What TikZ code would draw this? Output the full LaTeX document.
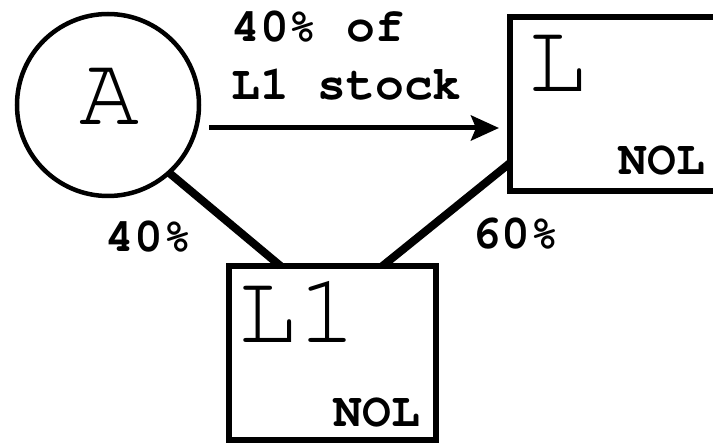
\documentclass[tikz,border=0pt]{standalone}
\usepackage[T1]{fontenc}
\usetikzlibrary{arrows.meta}
\newcommand{\courfam}{\fontfamily{pcr}\selectfont}
\begin{document}
\begin{tikzpicture}[x=1pt,y=-1pt,
  bigtxt/.style={font=\courfam\fontsize{100}{100}\selectfont, inner sep=0pt},
  lbltxt/.style={font=\courfam\bfseries\fontsize{48}{58}\selectfont, inner sep=0pt},
  boxnode/.style={draw, line width=6pt, outer sep=0pt, inner sep=0pt},
  link/.style={line width=8pt},
  flow/.style={line width=5pt, -{Stealth[length=28pt,width=25pt,inset=5pt]}}]
\useasboundingbox (0,0) rectangle (713,443);
\begin{scope}
\clip (0,0) rectangle (713,443);
\node[draw, circle, line width=4.5pt, minimum size=182pt, outer sep=0pt, inner sep=0pt] (A) at (108,105) {};
\node[bigtxt, anchor=base] (Atxt) at (109,125) {A};
\node[boxnode, minimum width=220pt, minimum height=174pt] (L) at (620,104) {};
\node[boxnode, minimum width=207pt, minimum height=174pt] (L1) at (332.5,353) {};
\node[bigtxt, anchor=base west] (Ltxt) at (527,92) {L};
\node[lbltxt, anchor=base east] (Lnol) at (705,175) {NOL};
\node[bigtxt, anchor=base west] (L1txt) at (237,343) {L1};
\node[lbltxt, anchor=base east] (L1nol) at (420,427) {NOL};
\draw[link] (A.-48) -- ([xshift=-52pt]L1.north);
\draw[link] ([yshift=-59pt]L.west) -- ([xshift=50pt]L1.north);
\draw[flow, shorten <=10pt, shorten >=11pt] (A.east |- 0,128) -- (L.west |- 0,128);
\node[lbltxt, anchor=base west, align=left] (flowlbl) at (231,100) {40\% of\\L1 stock};
\node[lbltxt, anchor=base] (p40) at (149,252) {40\%};
\node[lbltxt, anchor=base] (p60) at (516,249) {60\%};
\end{scope}
\end{tikzpicture}
\end{document}
